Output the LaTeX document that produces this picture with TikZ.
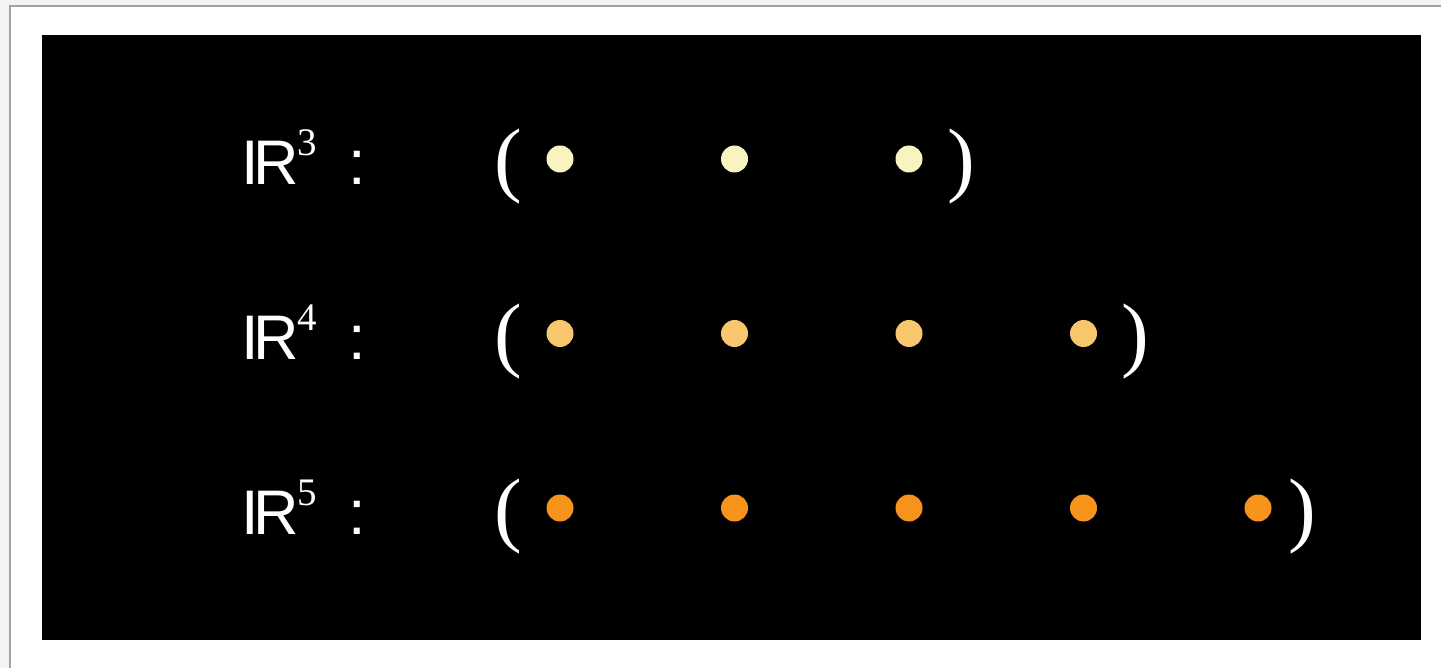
\documentclass[tikz,border=0pt]{standalone}
\usepackage{fontspec}
\usepackage{xcolor}
\usetikzlibrary{positioning,calc}
\newfontfamily\lblfont{Liberation Sans}
\newfontfamily\parfont{Liberation Serif}
\definecolor{cPage}{HTML}{F2F4F3}
\definecolor{cFrame}{HTML}{A3A3A3}
\definecolor{cPale}{HTML}{F8F4C2}
\definecolor{cLight}{HTML}{F8C66C}
\definecolor{cOrange}{HTML}{F6931A}
\tikzset{
  rlbl/.style={anchor=base west,inner sep=0pt,text=white,font=\lblfont\fontsize{63}{70}\selectfont},
  supl/.style={anchor=base west,inner sep=0pt,text=white,font=\parfont\fontsize{39}{44}\selectfont},
  paren/.style={anchor=base west,inner sep=0pt,text=white,font=\parfont\fontsize{83}{90}\selectfont},
  dot/.style={circle,fill=#1,inner sep=0pt,minimum size=27pt},
}
\begin{document}
\begin{tikzpicture}[x=1pt,y=-1pt]
  \useasboundingbox (0,0) rectangle (1441,668);
  \fill[cPage] (0,0) rectangle (1441,668);
  \draw[cFrame,line width=2pt,fill=white] (10,6) rectangle (1450,680);
  \fill[black] (42,35) rectangle (1421,640);
  % rows: dimension, closing paren x, colour
  \foreach \n/\row/\rp/\col in {3/0/947.6/cPale,4/1/1121.6/cLight,5/2/1288.6/cOrange}{
    \pgfmathsetmacro{\yb}{185+174.5*\row}
    \pgfmathsetmacro{\yd}{159+174.5*\row}
    \node[rlbl] (r\n) at (241,\yb) {I\kern-0.09em R};
    \node[supl] (s\n) at (297,\yb-29) {\n};
    \node[rlbl] (c\n) at (348,\yb) {:};
    \node[paren] (lp\n) at (494,\yb+2) {(};
    \node[paren] (rp\n) at (\rp,\yb+2) {)};
    \foreach \k in {1,...,\n}{
      \node[dot=\col] (d\n-\k) at ({560+174.5*(\k-1)},\yd) {};
    }
  }
\end{tikzpicture}
\end{document}
